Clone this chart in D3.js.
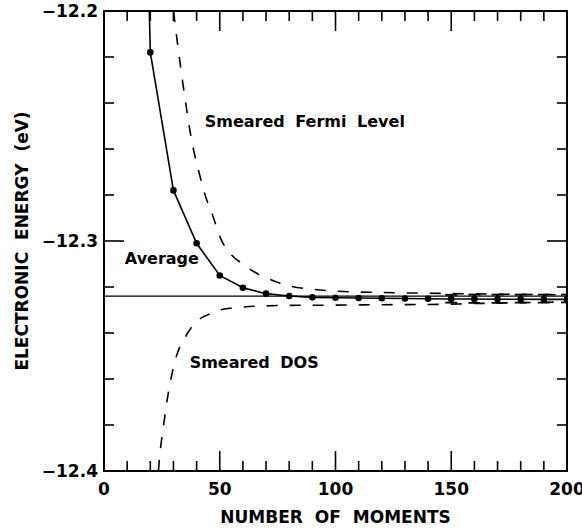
<!DOCTYPE html>
<html>
<head>
<meta charset="utf-8">
<script src="https://cdn.jsdelivr.net/npm/d3@7"></script>
<style>
  body { margin: 0; background: #fff; }
  svg text { font-family: "DejaVu Sans", sans-serif; font-weight: bold; fill: #000; }
</style>
</head>
<body>
<svg id="canvas" width="582" height="529"></svg>
<script>
// values
const avgMoments = [10, 20, 30, 40, 50, 60, 70, 80, 90, 100, 110, 120, 130, 140, 150, 160, 170, 180, 190, 200]
const avgEnergy = [-11.80, -12.218, -12.278, -12.301, -12.315, -12.3203, -12.3229, -12.3239, -12.3245, -12.3247,
  -12.3248, -12.3249, -12.3250, -12.3251, -12.3252, -12.3252, -12.3253, -12.3253, -12.3254, -12.3254]

const fermiMoments = [30, 32, 35, 38, 41, 44, 47, 50, 55, 60, 65, 70, 80, 90, 100, 120, 140, 160, 180, 200]
const fermiEnergy = [-12.200, -12.216, -12.238, -12.257, -12.270, -12.281, -12.289, -12.298, -12.306, -12.310,
  -12.3135, -12.316, -12.3195, -12.321, -12.3218, -12.3224, -12.3227, -12.3230, -12.3232, -12.3234]

const dosMoments = [23.5, 24, 25.5, 27, 28.5, 31, 35, 40, 45, 50, 60, 70, 80, 100, 120, 140, 160, 180, 200]
const dosEnergy = [-12.400, -12.394, -12.382, -12.371, -12.362, -12.351, -12.342, -12.335, -12.332, -12.330,
  -12.3287, -12.3282, -12.3280, -12.3279, -12.3277, -12.3276, -12.3272, -12.3268, -12.3265]

// error bars on the later averages
const errMoments = [150, 160, 170, 180, 190, 200]
const errLow = [-12.3268, -12.3269, -12.3269, -12.3268, -12.3268, -12.3267]
const errHigh = [-12.3234, -12.3233, -12.3233, -12.3233, -12.3233, -12.3233]

const exactEnergy = -12.324

const xTicks = [0, 50, 100, 150, 200]
const yTicks = [-12.4, -12.3, -12.2]

const labels = [
  { text: 'Smeared Fermi Level', x: 43.5, y: -12.2505 },
  { text: 'Average', x: 9, y: -12.3098 },
  { text: 'Smeared DOS', x: 37, y: -12.3552 }
]

function draw() {
  var canvas = d3.select('#canvas')
  var pl = 104, pr = 567, pt = 11, pb = 471

  var x = d3.scaleLinear().domain([0, 200]).range([pl, pr])
  var y = d3.scaleLinear().domain([-12.4, -12.2]).range([pb, pt])

  canvas.append('clipPath').attr('id', 'plot')
    .append('rect')
    .attr('x', pl).attr('y', pt)
    .attr('width', pr - pl).attr('height', pb - pt)

  var plot = canvas.append('g').attr('clip-path', 'url(#plot)')

  // the converged level
  plot.append('line')
    .attr('x1', x(0)).attr('x2', x(200))
    .attr('y1', y(exactEnergy)).attr('y2', y(exactEnergy))
    .style('stroke', '#000').style('stroke-width', 1.3)

  var line = d3.line().x(d => x(d[0])).y(d => y(d[1]))

  function dashed(xs, ys) {
    plot.append('path')
      .datum(d3.zip(xs, ys))
      .attr('d', line.curve(d3.curveMonotoneX))
      .attr('fill', 'none')
      .style('stroke', '#000')
      .style('stroke-width', 1.6)
      .style('stroke-dasharray', '11,12')
  }
  dashed(fermiMoments, fermiEnergy)
  dashed(dosMoments, dosEnergy)

  plot.append('path')
    .datum(d3.zip(avgMoments, avgEnergy))
    .attr('d', line.curve(d3.curveLinear))
    .attr('fill', 'none')
    .style('stroke', '#000')
    .style('stroke-width', 1.6)

  // error bars
  d3.zip(errMoments, errLow, errHigh).forEach(function(d) {
    plot.append('line')
      .attr('x1', x(d[0])).attr('x2', x(d[0]))
      .attr('y1', y(d[1])).attr('y2', y(d[2]))
      .style('stroke', '#000').style('stroke-width', 2.5)
    ;[d[1], d[2]].forEach(function(v) {
      plot.append('line')
        .attr('x1', x(d[0]) - 6).attr('x2', x(d[0]) + 6)
        .attr('y1', y(v)).attr('y2', y(v))
        .style('stroke', '#000').style('stroke-width', 1.8)
    })
  })

  plot.selectAll('circle')
    .data(d3.zip(avgMoments, avgEnergy))
    .enter()
    .append('circle')
    .attr('cx', d => x(d[0]))
    .attr('cy', d => y(d[1]))
    .attr('r', 3.3)
    .attr('fill', '#000')

  // frame with inward ticks on all four sides
  var frame = canvas.append('g')
  frame.append('rect')
    .attr('x', pl).attr('y', pt)
    .attr('width', pr - pl).attr('height', pb - pt)
    .attr('fill', 'none')
    .style('stroke', '#000').style('stroke-width', 2)

  d3.range(0, 201, 10).forEach(function(v) {
    var len = v % 50 === 0 ? 20 : 10
    frame.append('line')
      .attr('x1', x(v)).attr('x2', x(v))
      .attr('y1', pb).attr('y2', pb - len)
      .style('stroke', '#000').style('stroke-width', 1.6)
    frame.append('line')
      .attr('x1', x(v)).attr('x2', x(v))
      .attr('y1', pt).attr('y2', pt + len)
      .style('stroke', '#000').style('stroke-width', 1.6)
  })

  d3.range(0, 11).forEach(function(i) {
    var v = -12.4 + i * 0.02
    var len = i % 5 === 0 ? 20 : 10
    frame.append('line')
      .attr('x1', pl).attr('x2', pl + len)
      .attr('y1', y(v)).attr('y2', y(v))
      .style('stroke', '#000').style('stroke-width', 1.6)
    frame.append('line')
      .attr('x1', pr).attr('x2', pr - len)
      .attr('y1', y(v)).attr('y2', y(v))
      .style('stroke', '#000').style('stroke-width', 1.6)
  })

  // tick labels
  var fmt = d3.format('.1f')
  canvas.selectAll('.xlab')
    .data(xTicks)
    .enter()
    .append('text')
    .attr('x', d => x(d))
    .attr('y', 495)
    .attr('text-anchor', 'middle')
    .style('font-size', '17px')
    .text(d => d)

  canvas.selectAll('.ylab')
    .data(yTicks)
    .enter()
    .append('text')
    .attr('x', pl - 6)
    .attr('y', d => y(d) + 6)
    .attr('text-anchor', 'end')
    .style('font-size', '17px')
    .text(d => fmt(d))

  // axis titles
  canvas.append('text')
    .attr('x', (pl + pr) / 2)
    .attr('y', 523)
    .attr('text-anchor', 'middle')
    .style('font-size', '17px')
    .style('word-spacing', '6px')
    .text('NUMBER OF MOMENTS')

  canvas.append('text')
    .attr('transform', 'translate(28,' + ((pt + pb) / 2) + ') rotate(-90)')
    .attr('text-anchor', 'middle')
    .style('font-size', '17px')
    .style('word-spacing', '6px')
    .text('ELECTRONIC ENERGY (eV)')

  // curve labels
  canvas.selectAll('.lab')
    .data(labels)
    .enter()
    .append('text')
    .attr('x', d => x(d.x))
    .attr('y', d => y(d.y))
    .style('font-size', '16px')
    .style('word-spacing', '5px')
    .text(d => d.text)
}

draw()
</script>
</body>
</html>
